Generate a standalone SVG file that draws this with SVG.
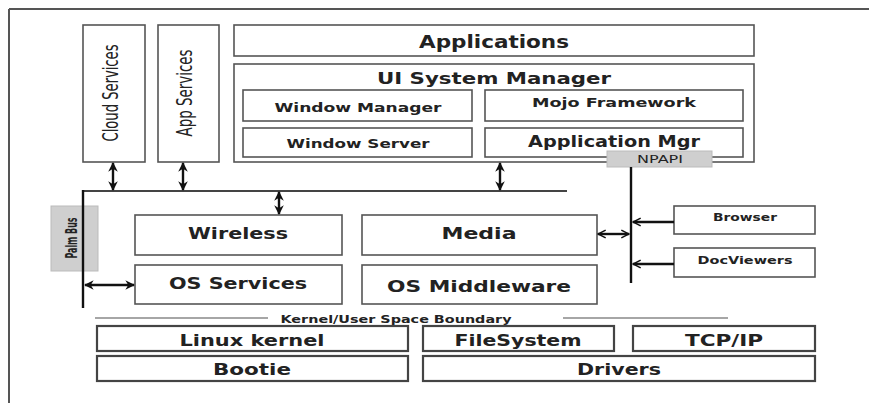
<svg xmlns="http://www.w3.org/2000/svg" width="869" height="403" viewBox="0 0 869 403">
<style>
.box{fill:#fff;stroke:#555;stroke-width:1.6}
.kbox{fill:#fff;stroke:#444;stroke-width:2.2}
.t{font-family:"DejaVu Sans","Verdana",sans-serif;font-weight:bold;fill:#222;text-anchor:middle}
.c{font-family:"DejaVu Sans Condensed","Liberation Sans",sans-serif;fill:#222;text-anchor:middle}
.ln{stroke:#111;stroke-width:2.4;fill:none}
.gray{fill:#cfcfcf;stroke:#bbb;stroke-width:1}
</style>
<defs>
<marker id="ah" viewBox="0 0 10 10" refX="9" refY="5" markerWidth="4" markerHeight="4" orient="auto-start-reverse" markerUnits="strokeWidth">
<path d="M0,0 L10,5 L0,10 L3,5 Z" fill="#111"/>
</marker>
<marker id="av" viewBox="0 0 10 10" refX="9" refY="5" markerWidth="4" markerHeight="4" orient="auto-start-reverse" markerUnits="strokeWidth">
<path d="M1,1 L9,5 L1,9" fill="none" stroke="#111" stroke-width="1.6"/>
</marker>
</defs>
<rect width="869" height="403" fill="#fff"/>
<g id="frame">
<line x1="9" y1="9" x2="869" y2="9" stroke="#555" stroke-width="2"/>
<line x1="9" y1="9" x2="9" y2="403" stroke="#555" stroke-width="2"/>
</g>
<g id="cloud"><rect class="box" x="83" y="25" width="62" height="137"/>
<text class="c" font-size="17" transform="translate(118,93) rotate(-90) scale(1,1.25)" textLength="97" lengthAdjust="spacingAndGlyphs">Cloud Services</text></g>
<g id="appsvc"><rect class="box" x="158" y="25" width="61" height="137"/>
<text class="c" font-size="17" transform="translate(192,93) rotate(-90) scale(1,1.25)" textLength="87" lengthAdjust="spacingAndGlyphs">App Services</text></g>
<g id="applications"><rect class="box" x="234" y="25" width="520" height="31"/>
<text class="t" x="494" y="48" font-size="17" textLength="150" lengthAdjust="spacingAndGlyphs">Applications</text></g>
<g id="uisys"><rect class="box" x="234" y="64" width="520" height="98"/>
<text class="t" x="494" y="84" font-size="16" textLength="234" lengthAdjust="spacingAndGlyphs">UI System Manager</text></g>
<g id="winmgr"><rect class="box" x="243" y="90" width="229" height="31"/>
<text class="t" x="358" y="112" font-size="13" textLength="167" lengthAdjust="spacingAndGlyphs">Window Manager</text></g>
<g id="winsrv"><rect class="box" x="243" y="128" width="229" height="29"/>
<text class="t" x="358" y="148" font-size="13" textLength="143" lengthAdjust="spacingAndGlyphs">Window Server</text></g>
<g id="mojo"><rect class="box" x="485" y="90" width="258" height="31"/>
<text class="t" x="614" y="107" font-size="13" textLength="164" lengthAdjust="spacingAndGlyphs">Mojo Framework</text></g>
<g id="appmgr"><rect class="box" x="485" y="128" width="258" height="29"/>
<text class="t" x="614" y="147" font-size="15" textLength="172" lengthAdjust="spacingAndGlyphs">Application Mgr</text></g>
<g id="npapi"><rect class="gray" x="607" y="151" width="105" height="16"/>
<text class="t" x="660" y="163" font-size="10" fill="#333" textLength="46" lengthAdjust="spacingAndGlyphs" style="font-weight:normal">NPAPI</text></g>
<g id="palmbus"><rect class="gray" x="51" y="206" width="47" height="65"/>
<text class="c" font-size="12" font-weight="bold" transform="translate(77,238) rotate(-90) scale(1,1.3)" textLength="41" lengthAdjust="spacingAndGlyphs">Palm Bus</text></g>
<g id="wireless"><rect class="box" x="135" y="215" width="207" height="40"/>
<text class="t" x="238" y="239" font-size="16" textLength="100" lengthAdjust="spacingAndGlyphs">Wireless</text></g>
<g id="ossvc"><rect class="box" x="135" y="265" width="207" height="39"/>
<text class="t" x="238" y="289" font-size="16" textLength="138" lengthAdjust="spacingAndGlyphs">OS Services</text></g>
<g id="media"><rect class="box" x="362" y="215" width="235" height="40"/>
<text class="t" x="479" y="239" font-size="16" textLength="75" lengthAdjust="spacingAndGlyphs">Media</text></g>
<g id="osmw"><rect class="box" x="362" y="265" width="235" height="39"/>
<text class="t" x="479" y="292" font-size="16" textLength="184" lengthAdjust="spacingAndGlyphs">OS Middleware</text></g>
<g id="browser"><rect class="box" x="674" y="206" width="141" height="28"/>
<text class="t" x="745" y="221" font-size="11" textLength="64" lengthAdjust="spacingAndGlyphs">Browser</text></g>
<g id="docviewers"><rect class="box" x="674" y="248" width="141" height="29"/>
<text class="t" x="745" y="264" font-size="11" textLength="95" lengthAdjust="spacingAndGlyphs">DocViewers</text></g>
<g id="boundary">
<line x1="95" y1="318" x2="268" y2="318" stroke="#888" stroke-width="1.6"/>
<line x1="563" y1="318" x2="728" y2="318" stroke="#888" stroke-width="1.6"/>
<text class="t" x="396" y="323" font-size="11" textLength="231" lengthAdjust="spacingAndGlyphs">Kernel/User Space Boundary</text></g>
<g id="linux"><rect class="kbox" x="97" y="326" width="311" height="25"/>
<text class="t" x="252" y="346" font-size="16" textLength="145" lengthAdjust="spacingAndGlyphs">Linux kernel</text></g>
<g id="bootie"><rect class="kbox" x="97" y="356" width="311" height="25"/>
<text class="t" x="252" y="375" font-size="16" textLength="78" lengthAdjust="spacingAndGlyphs">Bootie</text></g>
<g id="filesystem"><rect class="kbox" x="423" y="326" width="191" height="25"/>
<text class="t" x="518" y="346" font-size="16" textLength="127" lengthAdjust="spacingAndGlyphs">FileSystem</text></g>
<g id="tcpip"><rect class="kbox" x="633" y="326" width="182" height="25"/>
<text class="t" x="724" y="346" font-size="16" textLength="78" lengthAdjust="spacingAndGlyphs">TCP/IP</text></g>
<g id="drivers"><rect class="kbox" x="423" y="356" width="392" height="25"/>
<text class="t" x="619" y="375" font-size="16" textLength="84" lengthAdjust="spacingAndGlyphs">Drivers</text></g>
<g id="connectors">
<line x1="83" y1="191" x2="567" y2="191" stroke="#444" stroke-width="2.2"/>
<line class="ln" x1="83" y1="190" x2="83" y2="308" stroke-width="3"/>
<line class="ln" x1="631" y1="167" x2="631" y2="283" stroke-width="3"/>
<line class="ln" x1="113" y1="163" x2="113" y2="190" marker-start="url(#ah)" marker-end="url(#ah)"/>
<line class="ln" x1="183" y1="163" x2="183" y2="190" marker-start="url(#ah)" marker-end="url(#ah)"/>
<line class="ln" x1="500" y1="163" x2="500" y2="190" marker-start="url(#ah)" marker-end="url(#ah)"/>
<line class="ln" x1="279" y1="192" x2="279" y2="214" marker-start="url(#ah)" marker-end="url(#ah)"/>
<line class="ln" x1="85" y1="285" x2="134" y2="285" marker-start="url(#ah)" marker-end="url(#ah)"/>
<line class="ln" x1="598" y1="234" x2="629" y2="234" stroke-width="2" marker-start="url(#av)" marker-end="url(#av)"/>
<line class="ln" x1="674" y1="222" x2="633" y2="222" stroke-width="2" marker-end="url(#av)"/>
<line class="ln" x1="674" y1="264" x2="633" y2="264" stroke-width="2" marker-end="url(#av)"/>
</g>
</svg>
